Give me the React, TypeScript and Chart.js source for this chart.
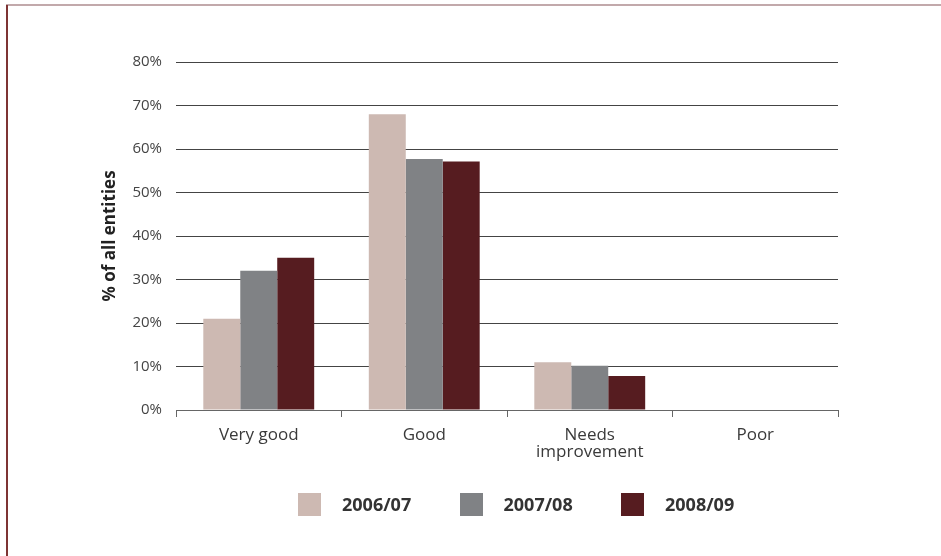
import React, { useEffect, useRef } from "react";
import { Chart, registerables } from "chart.js";

Chart.register(...registerables);

// Ratings of entities, share of all entities in each rating
const categories: (string | string[])[] = ["Very good", "Good", ["Needs", "improvement"], "Poor"];
const seriesNames = ["2006/07", "2007/08", "2008/09"];
const values2006: number[] = [21, 68, 11, 0];
const values2007: number[] = [32, 57.7, 10.2, 0];
const values2008: number[] = [35, 57.1, 7.8, 0];
const seriesColors = ["#cdb9b2", "#808285", "#561c20"];
const yTicks = { min: 0, max: 80, step: 10 };

const FONT = "'Open Sans', 'Noto Sans', sans-serif";

export default function App() {
  const canvasRef = useRef<HTMLCanvasElement | null>(null);

  useEffect(() => {
    const canvas = canvasRef.current;
    if (!canvas) return;
    const seriesValues = [values2006, values2007, values2008];
    const chart = new Chart(canvas, {
      type: "bar",
      data: {
        labels: categories,
        datasets: seriesNames.map((name, i) => ({
          label: name,
          data: seriesValues[i],
          backgroundColor: seriesColors[i],
          borderWidth: 0,
          barPercentage: 1,
          categoryPercentage: 0.67,
        })),
      },
      options: {
        responsive: false,
        animation: false,
        layout: { padding: { top: 62, right: 103, left: 0, bottom: 0 } },
        plugins: {
          legend: { display: false },
          tooltip: { enabled: false },
        },
        scales: {
          x: {
            afterFit: (scale: any) => {
              scale.height = 146;
            },
            grid: {
              display: true,
              drawOnChartArea: false,
              drawTicks: true,
              tickLength: 7,
              color: "#666666",
              offset: true,
            },
            border: { display: true, color: "#666666", width: 1 },
            ticks: {
              color: "#3a3a3a",
              padding: 10,
              font: { family: FONT, size: 17, lineHeight: 1.0 },
              maxRotation: 0,
              autoSkip: false,
            },
          },
          y: {
            min: yTicks.min,
            max: yTicks.max,
            afterFit: (scale: any) => {
              scale.width = 176;
            },
            grid: {
              color: "#444444",
              lineWidth: 1,
              drawTicks: false,
            },
            border: { display: false },
            ticks: {
              stepSize: yTicks.step,
              padding: 14,
              color: "#444444",
              font: { family: FONT, size: 15 },
              callback: (v: any) => `${v}%`,
            },
            title: {
              display: true,
              text: "% of all entities",
              color: "#222222",
              font: { family: FONT, size: 17, weight: "bold" },
              padding: { top: 100, bottom: 0 },
            },
          },
        },
      },
    });
    return () => chart.destroy();
  }, []);

  return (
    <div
      style={{
        position: "absolute",
        left: 0,
        top: 0,
        width: 941,
        height: 556,
        background: "#ffffff",
        overflow: "hidden",
      }}
    >
      <div style={{ position: "absolute", left: 6, top: 4, width: 935, height: 2, background: "#c2a9ab" }} />
      <div style={{ position: "absolute", left: 6, top: 5, width: 2, height: 551, background: "#7e3434" }} />
      <canvas ref={canvasRef} width={941} height={556} style={{ position: "absolute", left: 0, top: 0 }} />
      <div
        style={{
          position: "absolute",
          left: 298,
          top: 493,
          display: "flex",
          fontFamily: FONT,
          fontWeight: 700,
          fontSize: 18,
          color: "#333333",
        }}
      >
        {seriesNames.map((name, i) => (
          <div key={name} style={{ width: 161.5, height: 23, display: "flex", alignItems: "center" }}>
            <span style={{ width: 23, height: 23, background: seriesColors[i], display: "inline-block" }} />
            <span style={{ marginLeft: 21, lineHeight: "23px" }}>{name}</span>
          </div>
        ))}
      </div>
    </div>
  );
}
